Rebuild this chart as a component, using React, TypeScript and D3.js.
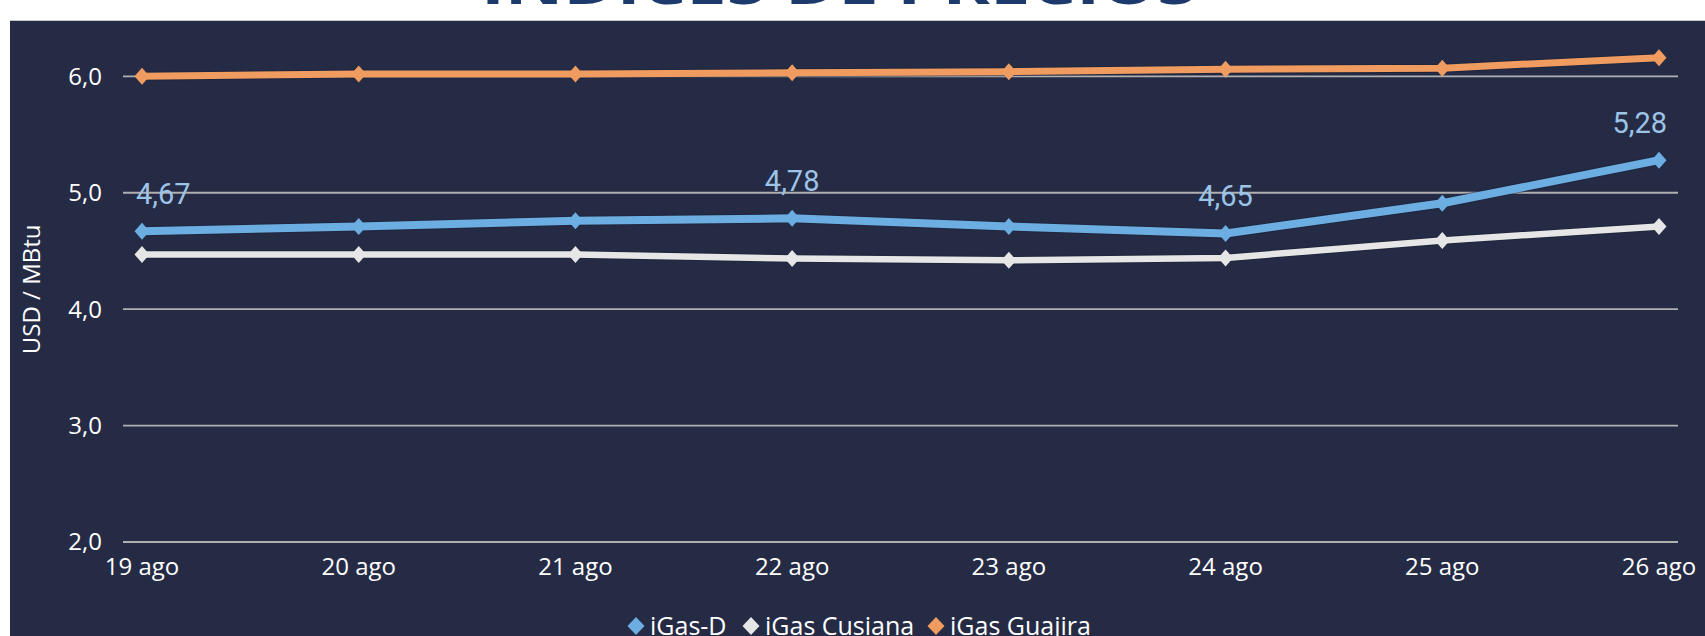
import React from 'react'
import * as d3 from 'd3'

const days = ['19 ago', '20 ago', '21 ago', '22 ago', '23 ago', '24 ago', '25 ago', '26 ago']
const igasD = [4.67, 4.71, 4.76, 4.78, 4.71, 4.65, 4.91, 5.28]
const igasCusiana = [4.47, 4.47, 4.47, 4.435, 4.42, 4.44, 4.59, 4.71]
const igasGuajira = [6.0, 6.02, 6.02, 6.03, 6.04, 6.06, 6.07, 6.16]
const yTicks = [2, 3, 4, 5, 6]
// only some points of iGas-D carry a value label
const labelledIdx = [0, 3, 5, 7]

const series = [
  { name: 'iGas-D', values: igasD, color: '#6caee2', width: 8 },
  { name: 'iGas Cusiana', values: igasCusiana, color: '#e6e6e6', width: 6.5 },
  { name: 'iGas Guajira', values: igasGuajira, color: '#f09b60', width: 7 },
]

const W = 1705
const H = 636
const bg = '#252b45'
const font = '"Open Sans", "Noto Sans", sans-serif'

function diamond(cx, cy, hw, hh) {
  return `M${cx},${cy - hh}L${cx + hw},${cy}L${cx},${cy + hh}L${cx - hw},${cy}Z`
}

export default function App() {
  const x = d3.scalePoint().domain(days).range([142, 1659])
  const y = d3.scaleLinear().domain([2, 6]).range([542, 76.3])
  const gridX0 = 123
  const gridX1 = 1678
  const fmt = (v) => d3.format('.1f')(v).replace('.', ',')
  const fmt2 = (v) => d3.format('.2f')(v).replace('.', ',')

  const line = d3.line().x((d, i) => x(days[i])).y(d => y(d))

  const legendItems = [
    { s: series[0], x: 636 },
    { s: series[1], x: 751 },
    { s: series[2], x: 936 },
  ]

  return (
    <div style={{ position: 'absolute', left: 0, top: 0 }}>
      <svg width={W} height={H} style={{ display: 'block' }}>
        <rect x={0} y={0} width={W} height={H} fill="#ffffff" />
        <text x={481} y={4} fontFamily={font} fontWeight="bold" fontSize={56}
          fill="#1d3a6c" textLength={716} lengthAdjust="spacingAndGlyphs">
          ÍNDICES DE PRECIOS
        </text>
        <rect x={10} y={20} width={W - 10} height={H - 20} fill={bg} />
        <line x1={10} x2={W} y1={20.5} y2={20.5} stroke="#c8c8c8" strokeWidth={1} />

        {yTicks.map(t => (
          <g key={t}>
            <line x1={gridX0} x2={gridX1} y1={y(t)} y2={y(t)} stroke="#b0b0b0" strokeWidth={1.8} />
            <text x={102} y={y(t)} dy="0.35em" textAnchor="end" fontFamily={font}
              fontSize={24} fill="#ffffff">{fmt(t)}</text>
          </g>
        ))}

        {days.map(d => (
          <text key={d} x={x(d)} y={575} textAnchor="middle" fontFamily={font}
            fontSize={24} fill="#ffffff">{d}</text>
        ))}

        <text transform={`translate(40,${y(4.17)}) rotate(-90)`} textAnchor="middle"
          fontFamily={font} fontSize={24} fill="#ffffff">USD / MBtu</text>

        {series.map(s => (
          <g key={s.name}>
            <path d={line(s.values)} fill="none" stroke="#1a1f33" strokeOpacity={0.5}
              strokeWidth={s.width + 2} strokeLinejoin="round" />
            <path d={line(s.values)} fill="none" stroke={s.color} strokeWidth={s.width}
              strokeLinejoin="round" />
            {s.values.map((v, i) => (
              <path key={i} d={diamond(x(days[i]), y(v), 7.5, 8.5)} fill={s.color} />
            ))}
          </g>
        ))}

        {labelledIdx.map(i => {
          const last = i === days.length - 1
          const first = i === 0
          const px = x(days[i])
          return (
            <text key={i} x={first ? px - 6 : last ? px + 8 : px} y={y(igasD[i]) - 27}
              textAnchor={first ? 'start' : last ? 'end' : 'middle'}
              fontFamily='Roboto, sans-serif' fontSize={29} fill="#9dc3e6">
              {fmt2(igasD[i])}
            </text>
          )
        })}

        {legendItems.map(({ s, x: lx }) => (
          <g key={s.name}>
            <path d={diamond(lx, 626, 8.5, 9)} fill={s.color} />
            <text x={lx + 14} y={635} fontFamily={font} fontSize={25} fill="#ffffff">{s.name}</text>
          </g>
        ))}
      </svg>
    </div>
  )
}
